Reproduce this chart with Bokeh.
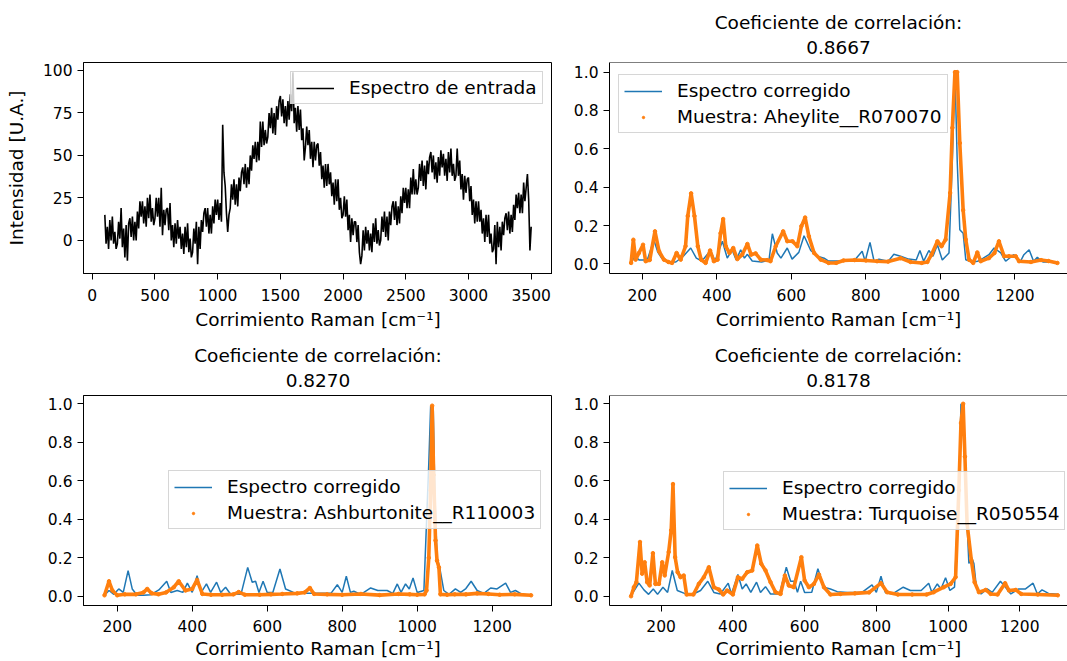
from bokeh.plotting import figure
from bokeh.layouts import column, row
from bokeh.models import Range1d, FixedTicker, PrintfTickFormatter, Span, Title
from bokeh.embed import file_html
from bokeh.resources import INLINE

FUENTE = "DejaVu Sans"
AZUL = "#1f77b4"
NARANJA = "#ff7f0e"
ETIQUETA_X = "Corrimiento Raman [cm⁻¹]"
ETIQUETA_Y = "Intensidad [U.A.]"
TITULO = "Coeficiente de correlación:"

# ---------------- Panel 1: espectro de entrada (paso de 10 cm-1 desde 100) ----------------
entrada_x = list(range(100, 3501, 10))
entrada_y = [15, -2, 8, -5, 12, 0, 14, -2, 5, -5,
             -2, 11, 1, 19, -4, 7, -10, 9, -12, 10,
             13, 2, 14, 0, 11, 0, 17, 7, 23, 14,
             23, 10, 20, 8, 25, 13, 27, 11, 19, 9,
             13, 25, 14, 25, 8, 31, 3, 18, 9, 18,
             19, 6, 22, 0, 9, -4, 10, -2, 12, 1,
             8, -5, 4, -8, 8, -4, 10, -7, 1, -10,
             -7, 7, -2, 11, -14, 8, -5, 12, 5, 16,
             19, 8, 19, 4, 15, 4, 20, 10, 24, 15,
             24, 12, 22, 11, 68, 40, 32, 16, 5, 15,
             19, 33, 24, 36, 21, 33, 20, 37, 29, 40,
             43, 33, 45, 31, 43, 33, 50, 41, 56, 48,
             58, 46, 58, 47, 70, 55, 70, 56, 65, 57,
             61, 75, 66, 78, 63, 75, 62, 79, 71, 82,
             85, 73, 83, 69, 79, 67, 82, 71, 86, 76,
             99, 69, 78, 64, 79, 65, 77, 59, 66, 47,
             55, 67, 56, 65, 48, 58, 43, 58, 47, 56,
             57, 44, 52, 36, 44, 31, 45, 32, 45, 33,
             40, 26, 34, 21, 36, 23, 36, 18, 25, 13,
             15, 26, 14, 24, 6, 15, -1, 13, 3, 11,
             11, -1, 9, -7, -14, -9, 6, -6, 8, -2,
             6, -6, 4, -7, 10, -1, 13, -2, 6, -3,
             0, 14, 5, 17, 2, 14, 0, 17, 9, 20,
             23, 12, 23, 9, 20, 10, 26, 16, 31, 22,
             31, 19, 30, 19, 37, 27, 42, 27, 36, 27,
             31, 45, 35, 47, 32, 44, 30, 47, 39, 49,
             52, 40, 50, 36, 46, 34, 49, 38, 53, 43,
             51, 38, 48, 35, 52, 40, 54, 38, 45, 35,
             38, 54, 38, 47, 30, 39, 24, 38, 28, 36,
             37, 23, 32, 15, 24, 10, 23, 11, 23, 11,
             18, 4, 13, -1, 15, 2, 15, -2, 4, -7,
             -5, 9, -14, 11, -4, 8, -6, 11, 3, 13,
             16, 6, 17, 4, 15, 5, 21, 12, 27, 19,
             28, 16, 27, 16, 34, 23, 31, 39, 24, -6,
             8]
ticks_x_entrada = [0, 500, 1000, 1500, 2000, 2500, 3000, 3500]
ticks_y_entrada = [0, 25, 50, 75, 100]
ticks_x_raman = [200, 400, 600, 800, 1000, 1200]
ticks_y_norm = [0.0, 0.2, 0.4, 0.6, 0.8, 1.0]

# ---------------- Panel 2: Aheylite ----------------
coef_1 = "0.8667"
muestra_1 = "Muestra: Aheylite__R070070"
corr1_x = [170, 180, 192, 204, 215, 231, 242, 252, 267, 290, 310, 330, 345, 360, 383, 395, 415, 428, 441, 452,
           464, 474, 482, 495, 520, 540, 549, 562, 572, 589, 602, 620, 634, 652, 670, 688, 700, 740, 770, 790,
           798, 811, 822, 835, 860, 875, 893, 915, 935, 945, 955, 969, 980, 992, 1005, 1023, 1032, 1039, 1045, 1052,
           1061, 1068, 1085, 1100, 1115, 1130, 1144, 1162, 1175, 1197, 1215, 1224, 1238, 1250, 1260, 1275, 1295, 1314]
corr1_y = [0.005, 0.04, 0.02, 0.02, 0.03, 0.125, 0.06, 0.03, 0.01, 0.01, 0.04, 0.083, 0.03, 0.015, 0.07, 0.015, 0.118, 0.03, 0.074, 0.02,
           0.074, 0.03, 0.05, 0.015, 0.01, 0.02, 0.157, 0.057, 0.03, 0.083, 0.025, 0.06, 0.147, 0.07, 0.04, 0.03, 0.015, 0.015, 0.02, 0.066,
           0.014, 0.112, 0.014, 0.025, 0.014, 0.05, 0.04, 0.025, 0.02, 0.07, 0.014, 0.07, 0.04, 0.1, 0.02, 0.057, 0.54, 1.0, 0.54, 0.178,
           0.16, 0.022, 0.01, 0.014, 0.03, 0.048, 0.083, 0.057, 0.014, 0.048, 0.014, 0.048, 0.074, 0.014, 0.035, 0.01, 0.01, 0.005]
mues1_x = [170, 176, 182, 191, 202, 209, 220, 234, 245, 258, 270, 280, 292, 303, 316, 322, 331, 340, 349, 358,
           370, 382, 392, 402, 410, 417, 424, 434, 444, 455, 468, 482, 492, 504, 518, 535, 544, 558, 578, 589,
           603, 616, 627, 637, 647, 661, 679, 700, 720, 740, 770, 800, 830, 860, 893, 920, 950, 965, 976, 992,
           1003, 1014, 1026, 1032, 1039, 1045, 1052, 1061, 1068, 1077, 1088, 1099, 1108, 1130, 1145, 1157, 1171, 1184, 1202, 1211,
           1243, 1270, 1290, 1314]
mues1_y = [0.005, 0.126, 0.022, 0.057, 0.1, 0.014, 0.02, 0.17, 0.066, 0.022, 0.01, 0.005, 0.057, 0.022, 0.092, 0.25, 0.368, 0.25, 0.092, 0.022,
           0.005, 0.07, 0.014, 0.022, 0.16, 0.234, 0.092, 0.057, 0.083, 0.025, 0.048, 0.104, 0.048, 0.055, 0.022, 0.02, 0.014, 0.092, 0.17, 0.118,
           0.118, 0.092, 0.197, 0.242, 0.144, 0.057, 0.022, 0.005, 0.005, 0.018, 0.02, 0.018, 0.014, 0.012, 0.03, 0.01, 0.005, 0.01, 0.048, 0.118,
           0.092, 0.127, 0.37, 0.71, 1.0, 1.0, 0.63, 0.28, 0.127, 0.022, 0.005, 0.06, 0.014, 0.03, 0.057, 0.118, 0.04, 0.04, 0.04, 0.014,
           0.01, 0.02, 0.015, 0.005]

# ---------------- Panel 3: Ashburtonite ----------------
coef_2 = "0.8270"
muestra_2 = "Muestra: Ashburtonite__R110003"
corr2_x = [166, 178, 191, 204, 216, 229, 240, 253, 270, 290, 311, 332, 343, 360, 375, 387, 400, 413, 424, 438,
           449, 465, 476, 489, 502, 530, 548, 560, 569, 578, 589, 600, 615, 634, 649, 670, 700, 740, 770, 787,
           800, 811, 822, 831, 850, 876, 895, 920, 935, 947, 957, 969, 979, 989, 1000, 1018, 1031, 1036, 1043, 1047,
           1053, 1060, 1071, 1085, 1102, 1116, 1130, 1144, 1160, 1178, 1196, 1213, 1236, 1249, 1262, 1280, 1304]
corr2_y = [0.005, 0.03, 0.01, 0.038, 0.02, 0.133, 0.038, 0.005, 0.005, 0.008, 0.033, 0.078, 0.02, 0.03, 0.02, 0.068, 0.02, 0.107, 0.02, 0.064,
           0.02, 0.073, 0.02, 0.047, 0.012, 0.01, 0.15, 0.073, 0.078, 0.02, 0.078, 0.02, 0.02, 0.142, 0.038, 0.02, 0.015, 0.015, 0.015, 0.06,
           0.02, 0.104, 0.02, 0.026, 0.01, 0.043, 0.03, 0.03, 0.015, 0.064, 0.02, 0.064, 0.038, 0.095, 0.02, 0.03, 0.69, 0.99, 0.965, 0.55,
           0.2, 0.15, 0.03, 0.01, 0.038, 0.02, 0.04, 0.078, 0.03, 0.015, 0.043, 0.038, 0.068, 0.02, 0.03, 0.01, 0.005]
mues2_x = [166, 178, 187, 200, 220, 250, 270, 280, 292, 310, 330, 351, 364, 382, 400, 413, 427, 450, 480, 510,
           524, 540, 580, 610, 640, 680, 700, 714, 725, 760, 800, 850, 900, 950, 980, 1000, 1020, 1025, 1031, 1036,
           1040, 1044, 1049, 1053, 1058, 1062, 1080, 1100, 1130, 1160, 1190, 1220, 1260, 1304]
mues2_y = [0.005, 0.078, 0.03, 0.005, 0.01, 0.01, 0.02, 0.038, 0.015, 0.01, 0.02, 0.047, 0.078, 0.03, 0.038, 0.085, 0.012, 0.008, 0.008, 0.01,
           0.022, 0.008, 0.008, 0.01, 0.012, 0.015, 0.02, 0.043, 0.012, 0.01, 0.008, 0.012, 0.006, 0.012, 0.01, 0.008, 0.01, 0.03, 0.2, 0.55,
           0.99, 0.63, 0.29, 0.185, 0.15, 0.01, 0.008, 0.01, 0.01, 0.015, 0.012, 0.008, 0.01, 0.005]

# ---------------- Panel 4: Turquoise ----------------
coef_3 = "0.8178"
muestra_3 = "Muestra: Turquoise__R050554"
corr3_x = [116, 138, 152, 165, 178, 190, 205, 218, 231, 245, 265, 290, 310, 330, 347, 365, 387, 396, 414, 426,
           437, 450, 466, 477, 491, 505, 530, 549, 561, 571, 580, 589, 600, 620, 637, 654, 672, 691, 720, 760,
           788, 800, 813, 825, 845, 875, 895, 925, 946, 955, 970, 980, 993, 1005, 1018, 1030, 1036, 1044, 1051, 1058,
           1066, 1072, 1079, 1092, 1109, 1123, 1146, 1160, 1175, 1197, 1216, 1237, 1249, 1262, 1280, 1306]
corr3_y = [0.003, 0.068, 0.033, 0.01, 0.038, 0.01, 0.047, 0.02, 0.134, 0.03, 0.015, 0.012, 0.03, 0.078, 0.02, 0.012, 0.068, 0.012, 0.113, 0.038,
           0.064, 0.02, 0.073, 0.02, 0.05, 0.012, 0.012, 0.151, 0.078, 0.078, 0.02, 0.078, 0.02, 0.021, 0.143, 0.047, 0.038, 0.024, 0.02, 0.02,
           0.059, 0.02, 0.104, 0.02, 0.012, 0.047, 0.03, 0.03, 0.068, 0.02, 0.064, 0.038, 0.096, 0.03, 0.047, 0.55, 1.0, 0.9, 0.46, 0.17,
           0.2, 0.17, 0.047, 0.012, 0.038, 0.02, 0.078, 0.047, 0.012, 0.038, 0.038, 0.068, 0.012, 0.033, 0.015, 0.01]
mues3_x = [116, 124, 131, 141, 147, 154, 161, 168, 177, 184, 194, 203, 210, 221, 228, 233, 239, 246, 254, 263,
           271, 290, 305, 319, 333, 347, 361, 373, 384, 400, 414, 426, 440, 454, 468, 479, 491, 505, 519, 533,
           545, 556, 570, 591, 600, 612, 626, 640, 654, 672, 700, 740, 780, 813, 830, 860, 900, 940, 960, 988,
           1007, 1021, 1030, 1036, 1042, 1047, 1053, 1065, 1074, 1086, 1105, 1119, 1138, 1159, 1170, 1189, 1204, 1250, 1306]
mues3_y = [0.0, 0.047, 0.073, 0.282, 0.117, 0.177, 0.073, 0.056, 0.224, 0.064, 0.064, 0.177, 0.108, 0.23, 0.343, 0.583, 0.203, 0.125, 0.099, 0.108,
           0.009, 0.009, 0.064, 0.099, 0.151, 0.047, 0.035, 0.009, 0.03, 0.009, 0.099, 0.09, 0.125, 0.134, 0.264, 0.169, 0.134, 0.073, 0.021, 0.012,
           0.108, 0.056, 0.047, 0.203, 0.082, 0.047, 0.064, 0.113, 0.047, 0.009, 0.012, 0.015, 0.02, 0.068, 0.021, 0.009, 0.009, 0.009, 0.021, 0.047,
           0.064, 0.099, 0.55, 0.9, 1.0, 0.725, 0.377, 0.186, 0.073, 0.021, 0.033, 0.012, 0.009, 0.068, 0.03, 0.033, 0.012, 0.009, 0.005]


def panel(ancho, alto, xr, yr, b_izq, b_sup, b_inf, ticks_x, ticks_y, fmt_y, abierto,
          coef=None, ylab=None, sep_tick=9, sep_lab=5):
    p = figure(width=ancho, height=alto, x_range=Range1d(*xr), y_range=Range1d(*yr),
               output_backend="svg", toolbar_location=None,
               min_border_left=b_izq, min_border_right=0, min_border_top=b_sup, min_border_bottom=b_inf)
    p.xgrid.visible = False
    p.ygrid.visible = False
    p.background_fill_color = "white"
    p.border_fill_color = "white"
    if abierto:
        p.outline_line_color = None
        p.add_layout(Span(location=yr[1], dimension="width", line_color="black", line_width=1))
    else:
        p.outline_line_color = "black"
        p.outline_line_alpha = 1
        p.outline_line_width = 1
    for ax in (p.xaxis[0], p.yaxis[0]):
        ax.axis_line_color = "black"
        ax.axis_line_width = 1
        ax.major_tick_line_color = "black"
        ax.major_tick_line_width = 1
        ax.major_tick_in = 0
        ax.major_tick_out = 6
        ax.minor_tick_line_color = None
        ax.major_label_text_font = FUENTE
        ax.major_label_text_font_size = "15.5px"
        ax.major_label_text_color = "black"
        ax.axis_label_text_font = FUENTE
        ax.axis_label_text_font_size = "18.5px"
        ax.axis_label_text_font_style = "normal"
        ax.axis_label_text_color = "black"
    p.xaxis[0].ticker = FixedTicker(ticks=ticks_x)
    p.yaxis[0].ticker = FixedTicker(ticks=ticks_y)
    if fmt_y:
        p.yaxis[0].formatter = PrintfTickFormatter(format=fmt_y)
    p.xaxis[0].axis_label = ETIQUETA_X
    p.xaxis[0].major_label_standoff = sep_tick
    p.xaxis[0].axis_label_standoff = sep_lab
    p.yaxis[0].major_label_standoff = 5
    if ylab:
        p.yaxis[0].axis_label = ylab
        p.yaxis[0].axis_label_standoff = 13
    if coef:
        t1 = Title(text=coef, align="center", text_font=FUENTE, text_font_size="18.5px",
                   text_font_style="normal", text_color="black", text_line_height=0.9, standoff=17)
        t2 = Title(text=TITULO, align="center", text_font=FUENTE, text_font_size="18.5px",
                   text_font_style="normal", text_color="black", text_line_height=0.9, standoff=-5)
        p.add_layout(t1, "above")
        p.add_layout(t2, "above")
    return p


def leyenda(p, ubic):
    lg = p.legend[0]
    lg.location = ubic
    lg.margin = 0
    lg.padding = 5
    lg.spacing = 5
    lg.glyph_width = 38
    lg.glyph_height = 6
    lg.label_standoff = 15
    lg.label_text_font = FUENTE
    lg.label_text_font_size = "18.5px"
    lg.label_text_color = "black"
    lg.border_line_color = "#cccccc"
    lg.border_line_alpha = 0.8
    lg.background_fill_color = "white"
    lg.background_fill_alpha = 0.8


# Geometry (page has no margin): frames at x 83-552 / 609-1067, y 62-273 / 395-605
W_IZQ, W_DER = 552, 515
H_SUP, H_INF = 338, 323

p1 = panel(W_IZQ, H_SUP, (-70, 3670), (-19.5, 104.7), 83, 62, 65, ticks_x_entrada, ticks_y_entrada, None, False,
           ylab=ETIQUETA_Y)
p1.line(entrada_x, entrada_y, color="black", line_width=1.6, legend_label="Espectro de entrada")
leyenda(p1, (207, 169))

p2 = panel(W_DER, H_SUP, (112, 1341), (-0.05, 1.05), 57, 62, 65, ticks_x_raman, ticks_y_norm, "%.1f", True,
           coef=coef_1)
p2.line(corr1_x, corr1_y, color=AZUL, line_width=1.5, legend_label="Espectro corregido")
p2.line(mues1_x, mues1_y, color=NARANJA, line_width=3.6)
p2.scatter(mues1_x, mues1_y, color=NARANJA, size=3.5, legend_label=muestra_1)
leyenda(p2, (9, 140))

p3 = panel(W_IZQ, H_INF, (110, 1361), (-0.048, 1.043), 83, 57, 56, ticks_x_raman, ticks_y_norm, "%.1f", False,
           coef=coef_2, sep_tick=8, sep_lab=3)
p3.line(corr2_x, corr2_y, color=AZUL, line_width=1.5, legend_label="Espectro corregido")
p3.line(mues2_x, mues2_y, color=NARANJA, line_width=3.6)
p3.scatter(mues2_x, mues2_y, color=NARANJA, size=3.5, legend_label=muestra_2)
leyenda(p3, (85, 76))

p4 = panel(W_DER, H_INF, (56, 1333), (-0.048, 1.043), 57, 57, 56, ticks_x_raman, ticks_y_norm, "%.1f", True,
           coef=coef_3, sep_tick=8, sep_lab=3)
p4.line(corr3_x, corr3_y, color=AZUL, line_width=1.5, legend_label="Espectro corregido")
p4.line(mues3_x, mues3_y, color=NARANJA, line_width=3.6)
p4.scatter(mues3_x, mues3_y, color=NARANJA, size=3.5, legend_label=muestra_3)
leyenda(p4, (114, 75))

p = column(row(p1, p2, spacing=0), row(p3, p4, spacing=0), spacing=0)

open("out.html", "w").write(file_html(p, INLINE))
